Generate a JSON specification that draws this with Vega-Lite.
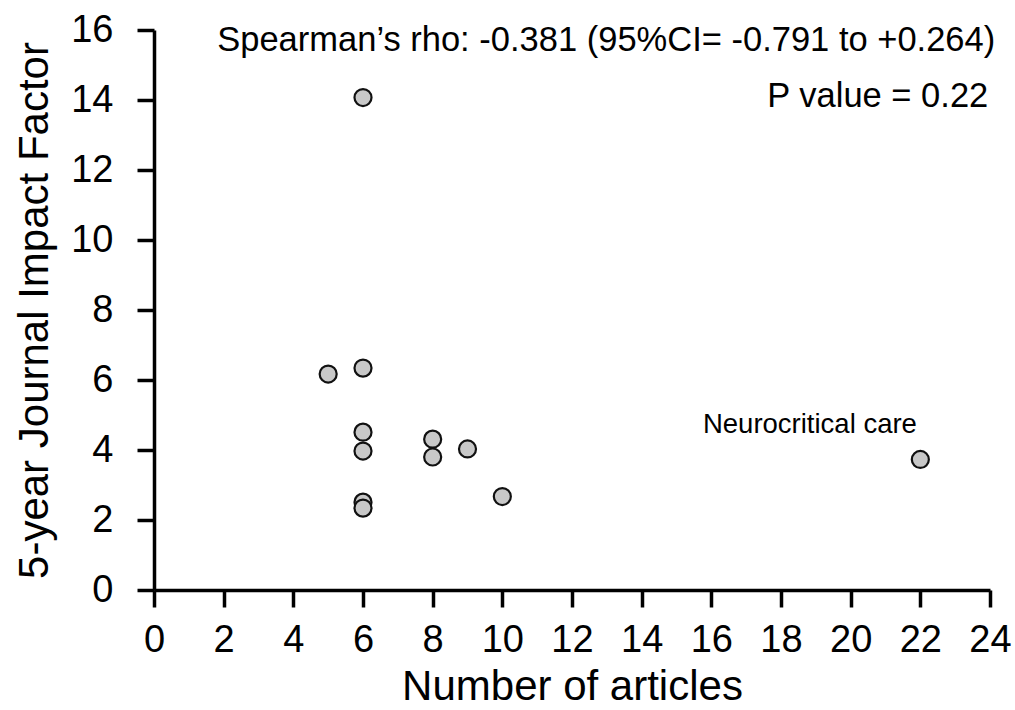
{
  "$schema": "https://vega.github.io/schema/vega-lite/v6.json",
  "autosize": "none",
  "width": 836,
  "height": 560,
  "padding": {"left": 154, "top": 30, "right": 25, "bottom": 120},
  "background": "white",
  "config": {
    "view": {"stroke": null},
    "font": "Liberation Sans",
    "axis": {
      "grid": false,
      "domainColor": "black",
      "domainWidth": 3.5,
      "tickColor": "black",
      "tickWidth": 3.5,
      "tickSize": 17,
      "labelFont": "Liberation Sans",
      "labelFontSize": 38,
      "labelColor": "black",
      "labelFlush": false,
      "labelOverlap": false,
      "titleFont": "Liberation Sans",
      "titleFontSize": 42,
      "titleFontWeight": "normal",
      "titleColor": "black"
    }
  },
  "layer": [
    {
      "data": {
        "values": [
          {"articles": 6, "jif": 14.07},
          {"articles": 5, "jif": 6.17},
          {"articles": 6, "jif": 6.34},
          {"articles": 6, "jif": 4.51},
          {"articles": 6, "jif": 3.97},
          {"articles": 6, "jif": 2.51},
          {"articles": 6, "jif": 2.34},
          {"articles": 8, "jif": 4.31},
          {"articles": 8, "jif": 3.8},
          {"articles": 9, "jif": 4.03},
          {"articles": 10, "jif": 2.67},
          {"articles": 22, "jif": 3.73}
        ]
      },
      "mark": {"type": "point", "shape": "circle", "filled": true, "fill": "#c8c8c8", "stroke": "#111111", "strokeWidth": 2.2, "size": 290, "opacity": 1},
      "encoding": {
        "x": {
          "field": "articles", "type": "quantitative",
          "scale": {"domain": [0, 24], "nice": false, "zero": true},
          "axis": {"title": "Number of articles", "values": [0,2,4,6,8,10,12,14,16,18,20,22,24], "labelPadding": 14, "titlePadding": 7}
        },
        "y": {
          "field": "jif", "type": "quantitative",
          "scale": {"domain": [0, 16], "nice": false, "zero": true},
          "axis": {"title": "5-year Journal Impact Factor", "values": [0,2,4,6,8,10,12,14,16], "labelPadding": 24, "titlePadding": 14}
        }
      }
    },
    {
      "data": {
        "values": [
          {"x": 24.15, "y": 15.4, "label": "Spearman’s rho: -0.381 (95%CI= -0.791 to +0.264)"},
          {"x": 23.95, "y": 13.8, "label": "P value = 0.22"}
        ]
      },
      "mark": {"type": "text", "align": "right", "baseline": "alphabetic", "fontSize": 34.5, "font": "Liberation Sans", "color": "black"},
      "encoding": {
        "x": {"field": "x", "type": "quantitative"},
        "y": {"field": "y", "type": "quantitative"},
        "text": {"field": "label"}
      }
    },
    {
      "data": {
        "values": [
          {"x": 18.83, "y": 4.49, "label": "Neurocritical care"}
        ]
      },
      "mark": {"type": "text", "align": "center", "baseline": "alphabetic", "fontSize": 27.5, "font": "Liberation Sans", "color": "black"},
      "encoding": {
        "x": {"field": "x", "type": "quantitative"},
        "y": {"field": "y", "type": "quantitative"},
        "text": {"field": "label"}
      }
    }
  ]
}
